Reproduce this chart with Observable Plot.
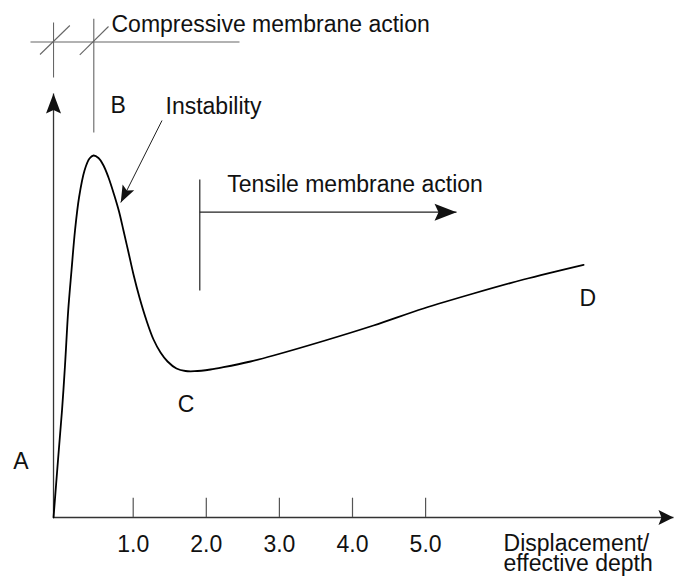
<!DOCTYPE html>
<html><head><meta charset="utf-8">
<script src="https://cdn.jsdelivr.net/npm/d3@7"></script>
<script src="https://cdn.jsdelivr.net/npm/@observablehq/plot@0.6"></script>
<style>body{margin:0;background:#fff}</style>
</head><body>
<script>
// Load–displacement curve (x = displacement / effective depth, y = load, arbitrary units)
const curveX = [-0.090,-0.029,0.026,0.067,0.111,0.156,0.204,0.259,0.334,0.402,0.457,0.525,0.594,0.662,0.738,0.806,0.867,0.936,1.004,1.086,1.182,1.278,1.374,1.470,1.592,1.715,1.838,2.057,2.235,2.605,2.919,3.603,4.287,4.971,5.655,6.340,7.161];
const curveY = [0,11.4,21.4,30.4,41.4,49.4,57.4,64.0,69.4,71.8,72.4,71.9,70.4,68.0,64.6,61.2,57.4,53.0,48.6,44.0,39.4,35.6,33.0,31.2,29.8,29.3,29.26,29.6,30.06,31.2,32.4,35.3,38.4,41.8,44.8,47.6,50.54];

// x tick values and labels
const tickValues = [1, 2, 3, 4, 5];
const tickLabels = ["1.0", "2.0", "3.0", "4.0", "5.0"];

// Point labels (chart units)
const pointNames = ["A", "B", "C", "D"];
const pointX = [-0.642, 0.689, 1.610, 7.105];
const pointY = [9.74, 81.0, 21.06, 42.4];

// Annotation texts (chart units, baseline positions)
const noteTexts = ["Compressive membrane action", "Instability", "Tensile membrane action", "Displacement/\neffective depth"];
const noteX = [0.703, 1.442, 2.286, 6.066];
const noteY = [97.06, 80.74, 65.06, -10.64];

// Axis extents
const originX = -0.09;
const xAxisEnd = 8.391;
const yAxisEnd = 84.8;
const tickTop = 3.86;
const tickLabelY = -6.8;

// Guide segments for compressive membrane region
const compX1 = [-0.405, originX, 0.461, -0.275, 0.269];
const compY1 = [95.1, 99.0, 99.74, 92.6, 92.54];
const compX2 = [2.454, originX, 0.461, 0.133, 0.662];
const compY2 = [95.1, 88.0, 77.0, 98.4, 98.2];

// Tensile membrane marker
const tensX1 = [1.911, 1.911];
const tensY1 = [67.6, 61.06];
const tensX2 = [1.911, 5.423];
const tensY2 = [45.4, 61.06];

// Instability pointer
const instStart = [1.394, 79.4];
const instTip = [0.830, 63.0];

// ---- build tables ----
const curve = curveX.map((x, i) => ({x, y: curveY[i]}));
const ticks = tickValues.map((v, i) => ({x: v, label: tickLabels[i]}));
const points = pointNames.map((n, i) => ({x: pointX[i], y: pointY[i], n}));
const notes = noteTexts.map((t, i) => ({x: noteX[i], y: noteY[i], t}));
const comp = compX1.map((v, i) => ({x1: v, y1: compY1[i], x2: compX2[i], y2: compY2[i]}));
const tens = tensX1.map((v, i) => ({x1: v, y1: tensY1[i], x2: tensX2[i], y2: tensY2[i]}));
const axes = [
  {x1: originX, y1: 0, x2: xAxisEnd, y2: 0},
  {x1: originX, y1: 0, x2: originX, y2: yAxisEnd}
];

function head(len, half, notch, dx, dy) {
  const m = Math.hypot(dx, dy); const ux = dx / m, uy = dy / m;
  const px = -uy, py = ux;
  return {draw(ctx) {
    ctx.moveTo(0, 0);
    ctx.lineTo(-ux * len + px * half, -uy * len + py * half);
    ctx.lineTo(-ux * (len - notch), -uy * (len - notch));
    ctx.lineTo(-ux * len - px * half, -uy * len - py * half);
    ctx.closePath();
  }};
}

const W = 674, H = 578;
const pxPerX = 73.1, pxPerY = 5, x0px = 59.6, y0px = 517;
const font = "'Liberation Sans', Arial, Helvetica, sans-serif";

const chart = Plot.plot({
  width: W, height: H,
  marginLeft: 0, marginRight: 0, marginTop: 0, marginBottom: 0,
  x: {domain: [(0 - x0px) / pxPerX, (W - x0px) / pxPerX], axis: null},
  y: {domain: [(y0px - H) / pxPerY, y0px / pxPerY], axis: null},
  style: {fontFamily: font, background: "#fff", overflow: "visible"},
  marks: [
    Plot.link(comp, {x1: "x1", y1: "y1", x2: "x2", y2: "y2", stroke: "#666", strokeWidth: 1.1}),
    Plot.link(tens, {x1: "x1", y1: "y1", x2: "x2", y2: "y2", stroke: "#222", strokeWidth: 1.2}),
    Plot.link(axes, {x1: "x1", y1: "y1", x2: "x2", y2: "y2", stroke: "#333", strokeWidth: 1.3}),
    Plot.ruleX(ticks, {x: "x", y1: 0, y2: tickTop, stroke: "#555", strokeWidth: 1.2}),
    Plot.link([{x1: instStart[0], y1: instStart[1], x2: instTip[0], y2: instTip[1]}], {x1: "x1", y1: "y1", x2: "x2", y2: "y2", stroke: "#222", strokeWidth: 1}),
    Plot.line(curve, {x: "x", y: "y", curve: "catmull-rom", stroke: "#000", strokeWidth: 1.8}),
    Plot.dot([{x: originX, y: yAxisEnd}], {x: "x", y: "y", symbol: head(20, 7.5, 3.5, 0, -1), fill: "#111", stroke: null, r: 5}),
    Plot.dot([{x: xAxisEnd, y: 0}], {x: "x", y: "y", symbol: head(15, 7.5, 3, 1, 0), fill: "#111", stroke: null, r: 5}),
    Plot.dot([{x: tensX2[1], y: tensY2[1]}], {x: "x", y: "y", symbol: head(22, 8.5, 4, 1, 0), fill: "#111", stroke: null, r: 5}),
    Plot.dot([{x: instTip[0], y: instTip[1]}], {x: "x", y: "y", symbol: head(17, 6.5, 3.5, instTip[0] - instStart[0], -(instTip[1] - instStart[1]) * pxPerY / pxPerX), fill: "#111", stroke: null, r: 5}),
    Plot.text(ticks, {x: "x", y: tickLabelY, text: "label", fontSize: 23, fill: "#111", textAnchor: "middle", lineAnchor: "bottom"}),
    Plot.text(points, {x: "x", y: "y", text: "n", fontSize: 23, fill: "#111", textAnchor: "start", lineAnchor: "bottom"}),
    Plot.text(notes, {x: "x", y: "y", text: "t", fontSize: 23, fill: "#111", textAnchor: "start", lineAnchor: "bottom", lineHeight: 0.87})
  ]
});
document.body.appendChild(chart);
</script>
</body></html>
